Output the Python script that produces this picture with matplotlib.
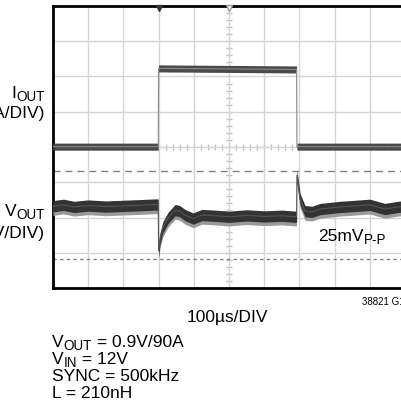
import matplotlib.pyplot as plt
import numpy as np

plt.rcParams['font.family'] = ['Liberation Sans', 'DejaVu Sans']

# Datos (unidades: divisiones)
# corriente de salida (escalón de carga)
t_iout = [0.0, 2.99, 3.0, 6.92, 6.93, 10.0]
iout = [4.01, 4.01, 6.23, 6.20, 4.01, 4.01]

# tensión de salida (centro de la banda de ruido)
t_vout = [0.0, 0.3, 0.6, 1.0, 1.5, 2.0, 2.5, 2.95, 2.99,
          3.0, 3.04, 3.12, 3.27, 3.47, 3.6, 3.75, 3.98, 4.23, 4.6,
          5.0, 5.5, 6.0, 6.5, 6.9, 6.92,
          6.93, 7.02, 7.16, 7.36, 7.59, 8.15, 8.6, 9.0, 9.43, 9.8, 10.0]
vout = [2.32, 2.36, 2.30, 2.34, 2.31, 2.33, 2.35, 2.37, 2.36,
        1.05, 1.40, 1.72, 1.99, 2.21, 2.18, 2.07, 1.97, 2.07, 2.05,
        2.02, 2.06, 2.03, 2.05, 2.02, 2.03,
        3.20, 2.52, 2.18, 2.16, 2.24, 2.30, 2.33, 2.36, 2.24, 2.30, 2.32]

# líneas de referencia (25mV p-p)
ref_top = 3.33
ref_bottom = 0.82

W, H = 402, 415
fig = plt.figure(figsize=(W / 100, H / 100), dpi=100)
ax = fig.add_axes([53 / W, 127 / H, 352 / W, 282 / H])
ax.set_xlim(0, 10)
ax.set_ylim(0, 8)

# Retícula del osciloscopio
ax.set_xticks(range(11))
ax.set_yticks(range(9))
ax.tick_params(length=0, labelbottom=False, labelleft=False)
ax.grid(True, color='#d4d4d4', lw=1)
for s in ['left', 'top', 'bottom', 'right']:
    ax.spines[s].set_linewidth(2)
    ax.spines[s].set_color('black')

# marcas menores en los ejes centrales
mt = np.arange(0, 10.01, 0.2)
ax.plot(mt, np.full_like(mt, 4), ls='none', marker='|', ms=4, color='#c0c0c0', zorder=1)
mv = np.arange(0, 8.01, 0.2)
ax.plot(np.full_like(mv, 5), mv, ls='none', marker='_', ms=4, color='#c0c0c0', zorder=1)

# Líneas discontinuas
ax.axhline(ref_top, color='#808080', lw=1, dashes=(5, 3.6), zorder=2)
ax.axhline(ref_bottom, color='#808080', lw=1, dashes=(2.4, 2.4), zorder=2)

# Traza de corriente
t_i = np.array(t_iout)
i_v = np.array(iout)
ax.fill_between(t_i, i_v - 0.1, i_v + 0.1, color='#4a4a4a', lw=0, zorder=3)
ax.plot(t_i, i_v, color='#8a8a8a', lw=0.8, zorder=3)

# Traza de tensión
t_v = np.array(t_vout)
v_v = np.array(vout)
ax.fill_between(t_v, v_v - 0.26, v_v + 0.05, color='#9a9a9a', lw=0, zorder=3)
ax.fill_between(t_v, v_v - 0.16, v_v + 0.16, color='#333333', lw=0, zorder=4)
ax.plot(t_v, v_v, color='#555555', lw=0.8, zorder=4)

# marcadores de disparo
ax.plot(3, 7.93, marker='v', color='#333333', ms=4.5, clip_on=False, zorder=6)
ax.plot(5, 7.93, marker='v', mfc='white', mec='#999999', ms=4.5, clip_on=False, zorder=6)

fs = 12.5
renderer = fig.canvas.get_renderer()


def rich(x, yb, parts, align='left'):
    # texto con subíndices; x, yb en píxeles (línea base)
    items = []
    for txt, sub in parts:
        size = fs * 0.78 if sub else fs
        dy = 3 if sub else 0
        t = fig.text(0, 0, txt, fontsize=size, va='baseline', ha='left')
        w = t.get_window_extent(renderer).width
        items.append((t, w, dy))
    total = sum(w for _, w, _ in items)
    cx = x - total if align == 'right' else x
    for t, w, dy in items:
        t.set_position((cx / W, 1 - (yb + dy) / H))
        cx += w


rich(45, 98, [('I', False), ('OUT', True)], align='right')
rich(45, 118, [('(20A/DIV)', False)], align='right')
rich(45, 216, [('V', False), ('OUT', True)], align='right')
rich(45, 238, [('(50mV/DIV)', False)], align='right')
rich(318, 241, [('25mV', False), ('P-P', True)])

fig.text(227 / W, 1 - 317 / H, '100µs/DIV', ha='center', va='center', fontsize=fs)
fig.text(362 / W, 1 - 302 / H, '38821 G13', ha='left', va='center', fontsize=7)

rich(52, 347, [('V', False), ('OUT', True), (' = 0.9V/90A', False)])
rich(52, 364, [('V', False), ('IN', True), (' = 12V', False)])
rich(52, 381, [('SYNC = 500kHz', False)])
rich(52, 398, [('L = 210nH', False)])

plt.savefig('out.png', dpi=100)
